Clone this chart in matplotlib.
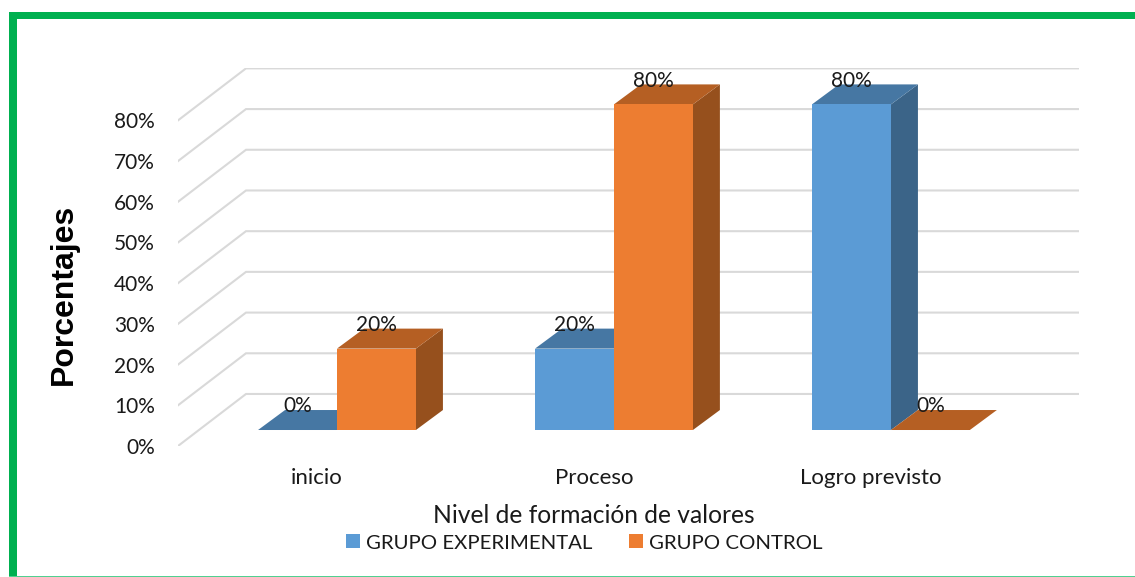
import numpy as np
import matplotlib
matplotlib.use('Agg')
import matplotlib.pyplot as plt
from matplotlib.patches import Patch, Rectangle

# datos
categorias = ['inicio', 'Proceso', 'Logro previsto']
experimental = [0, 20, 80]
control = [20, 80, 0]
niveles = [0, 10, 20, 30, 40, 50, 60, 70, 80]
nombres = ['GRUPO EXPERIMENTAL', 'GRUPO CONTROL']

plt.rcParams['font.family'] = ['Lato', 'DejaVu Sans']

W, H = 1135, 577
fig = plt.figure(figsize=(W / 100, H / 100), dpi=100, facecolor='white')

# caja del eje en pixeles de la imagen
ax = fig.add_axes([178 / W, (H - 446) / H, 901 / W, 378 / H])
ax.set_xlim(-0.574, 2.679)
ax.set_ylim(-3.93, 88.94)
for s in ax.spines.values():
    s.set_visible(False)
ax.patch.set_alpha(0)

# profundidad del pseudo 3D, en unidades de datos
suelo = -3.93      # donde cae el 0% del plano delantero
pared_dx, pared_dy = 0.2455, 12.78
barra_dx, barra_dy = 0.0975, 4.91
ancho = 0.285
izq, der = -0.574, 2.679

# rejilla: diagonal + linea de fondo
for n in niveles:
    ax.plot([izq, izq + pared_dx, der],
            [n + suelo, n + suelo + pared_dy, n + suelo + pared_dy],
            color='#D9D9D9', lw=1.5, zorder=1, solid_joinstyle='miter')


def barra3d(x0, v, frente, arriba, lado, z):
    x1 = x0 + ancho
    if v > 0:
        ax.fill([x0, x1, x1, x0], [0, 0, v, v], color=frente, lw=0, zorder=z + 0.2)
    ax.fill([x0, x1, x1 + barra_dx, x0 + barra_dx], [v, v, v + barra_dy, v + barra_dy],
            color=arriba, lw=0, zorder=z + 0.1)
    ax.fill([x1, x1 + barra_dx, x1 + barra_dx, x1], [0, barra_dy, v + barra_dy, v],
            color=lado, lw=0, zorder=z)
    ax.text(x0 + ancho / 2, v + barra_dy + 0.9, f'{v}%', ha='center', va='center',
            fontsize=15, color='#1a1a1a', zorder=10)


for i in range(len(categorias)):
    barra3d(i - ancho, experimental[i], '#5B9BD5', '#4677A3', '#3B6488', 3)
    barra3d(i, control[i], '#ED7D31', '#B55F23', '#96501D', 4)

# ticks
ax.set_yticks(np.array(niveles) + suelo, [f'{n}%' for n in niveles], fontsize=15, color='#1a1a1a',
              va='center_baseline')
ax.set_xticks(np.arange(len(categorias)) - 0.072, categorias, fontsize=16, color='#1a1a1a')
ax.tick_params(axis='y', length=0, pad=16.5)
ax.tick_params(axis='x', length=0, pad=16)

ax.set_xlabel('Nivel de formación de valores', fontsize=17.7, color='#1a1a1a', va='center')
ax.xaxis.set_label_coords(0.4617, -0.183)
ax.set_ylabel('Porcentajes', fontsize=23, fontweight='bold', family='Liberation Sans',
              color='black', va='center')
ax.yaxis.set_label_coords(-0.1265, 0.402)

handles = [Patch(color='#5B9BD5', lw=0), Patch(color='#ED7D31', lw=0)]
fig.legend(handles, nombres, loc='center', bbox_to_anchor=(584.5 / W, (H - 543) / H), ncol=2,
           frameon=False, fontsize=14.7, handlelength=0.68, handleheight=0.68,
           handletextpad=0.29, columnspacing=1.8, labelcolor='#1a1a1a',
           borderpad=0, borderaxespad=0)

# marco verde
verde = '#00B050'
fig.add_artist(Rectangle((8.5 / W, 0), 8 / W, (H - 12) / H, transform=fig.transFigure, color=verde, lw=0))
fig.add_artist(Rectangle((8.5 / W, (H - 19) / H), (W - 8.5) / W, 7 / H, transform=fig.transFigure, color=verde, lw=0))
fig.add_artist(Rectangle((8.5 / W, 0), (W - 8.5) / W, 1.2 / H, transform=fig.transFigure, color='#50D090', lw=0))

fig.savefig('out.png', dpi=100)
